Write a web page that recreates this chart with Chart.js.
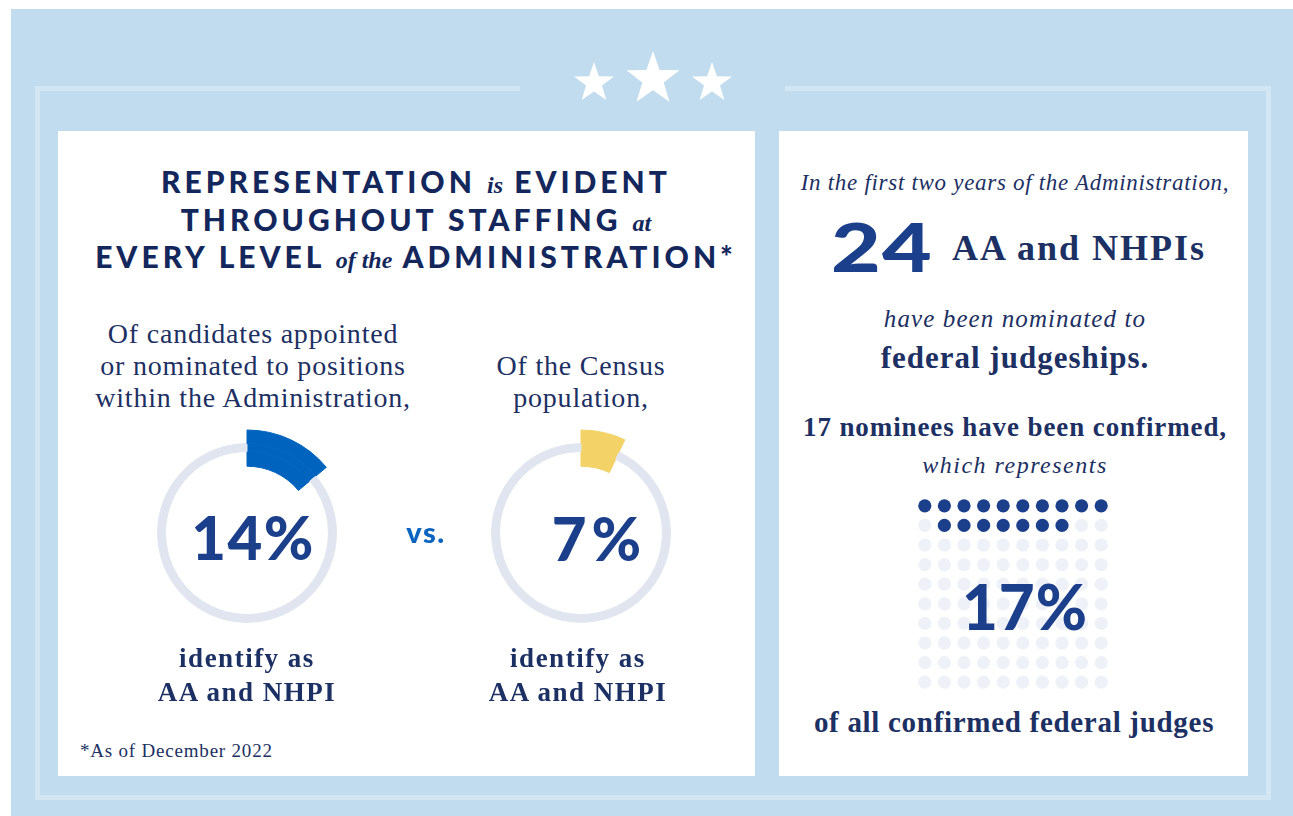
<!DOCTYPE html>
<html>
<head>
<meta charset="utf-8">
<script src="https://cdn.jsdelivr.net/npm/chart.js@4"></script>
<style>
  body { margin: 0; width: 1293px; height: 816px; background: #fff; position: relative; overflow: hidden; }
  .bg { position: absolute; left: 11px; top: 9px; width: 1282px; height: 807px; background: #c1dcee; }
  .frame { position: absolute; left: 35px; top: 86px; width: 1226px; height: 704px; border: 5px solid #d3e6f4; }
  .gap { position: absolute; left: 520px; top: 80px; width: 265px; height: 16px; background: #c1dcee; }
  .panel { position: absolute; top: 131px; height: 645px; background: #fff; }
  .t { position: absolute; white-space: nowrap; color: #1c3063; }
  .c { transform: translateX(-50%); text-align: center; }
  .serif { font-family: "Liberation Serif", serif; }
  .sans { font-family: "Lato", "Inter", sans-serif; font-weight: 900; }
  .big { color: #1b3f8b; }
  .ti { font-family: "Liberation Serif", serif; font-weight: 700; font-size: 24px; letter-spacing: 0; line-height: 0; }
  canvas { position: absolute; }
</style>
</head>
<body>
<div class="bg"></div>
<div class="frame"></div>
<div class="gap"></div>
<svg style="position:absolute;left:560px;top:45px" width="190" height="70" viewBox="560 45 190 70">
  <g fill="#fff" id="stars"></g>
</svg>
<div class="panel" style="left:58px;width:697px"></div>
<div class="panel" style="left:779px;width:469px"></div>

<!-- left panel text -->
<div class="t c sans" style="left:416px;top:163px;font-size:30px;line-height:37.5px;letter-spacing:4px;color:#13275c">
  REPRESENTATION <i class="ti">is</i> EVIDENT<br>
  THROUGHOUT STAFFING <i class="ti">at</i><br>
  EVERY LEVEL <i class="ti">of the</i> ADMINISTRATION*
</div>
<div class="t c serif" style="left:253px;top:318px;font-size:28px;line-height:32px;letter-spacing:0.8px">
  Of candidates appointed<br>or nominated to positions<br>within the Administration,
</div>
<div class="t c serif" style="left:581px;top:350px;font-size:28px;line-height:32px;letter-spacing:0.8px">
  Of the Census<br>population,
</div>
<canvas id="staffChart" width="220" height="220" style="left:137px;top:423px;width:220px;height:220px"></canvas>
<canvas id="censusChart" width="220" height="220" style="left:471px;top:423px;width:220px;height:220px"></canvas>
<div class="t c sans big" style="left:253px;top:507px;font-size:60px;line-height:60px;letter-spacing:1.5px">14%</div>
<div class="t c sans big" style="left:599px;top:508px;font-size:60px;line-height:60px;letter-spacing:5px">7%</div>
<div class="t c sans" style="left:426px;top:517px;font-size:29px;line-height:30px;letter-spacing:1.5px;color:#0a64c0">vs.</div>
<div class="t c serif" style="left:247px;top:641px;font-size:27px;line-height:34px;font-weight:700;letter-spacing:1.5px">
  identify as<br>AA and NHPI
</div>
<div class="t c serif" style="left:578px;top:641px;font-size:27px;line-height:34px;font-weight:700;letter-spacing:1.5px">
  identify as<br>AA and NHPI
</div>
<div class="t serif" style="left:80px;top:740px;font-size:19px;line-height:22px;letter-spacing:0.8px">*As of December 2022</div>

<!-- right panel text -->
<div class="t c serif" style="left:1015px;top:170px;font-size:23px;line-height:26px;font-style:italic;letter-spacing:0.7px">In the first two years of the Administration,</div>
<div class="t sans big" style="left:882px;top:214px;font-size:66px;line-height:66px;letter-spacing:1px;transform:translateX(-50%) scaleX(1.3)">24</div>
<div class="t serif" style="left:952px;top:228px;font-size:36px;line-height:40px;font-weight:700;letter-spacing:2px">AA and NHPIs</div>
<div class="t c serif" style="left:1015px;top:305px;font-size:25px;line-height:28px;font-style:italic;letter-spacing:1.1px">have been nominated to</div>
<div class="t c serif" style="left:1015px;top:341px;font-size:31px;line-height:34px;font-weight:700;letter-spacing:1px">federal judgeships.</div>
<div class="t c serif" style="left:1015px;top:412px;font-size:27px;line-height:30px;font-weight:700;letter-spacing:0.9px">17 nominees have been confirmed,</div>
<div class="t c serif" style="left:1015px;top:452px;font-size:24px;line-height:26px;font-style:italic;letter-spacing:1.5px">which represents</div>
<canvas id="judgeChart" width="196" height="196" style="left:915px;top:496px;width:196px;height:196px"></canvas>
<div class="t c sans big" style="left:1025px;top:575px;font-size:62px;line-height:62px;letter-spacing:1px">17%</div>
<div class="t c serif" style="left:1014px;top:706px;font-size:29px;line-height:32px;font-weight:700;letter-spacing:0.7px">of all confirmed federal judges</div>

<script>
// share of AA and NHPI vs everyone else (percent)
const shareLabels = ['AA and NHPI', 'Other'];
const staffShare = [14, 86];
const censusShare = [7, 93];

// confirmed federal judges, 10 x 10 waffle, '#' = AA and NHPI
const judgeRows = [
    '##########',
    '.#######..',
    '..........',
    '..........',
    '..........',
    '..........',
    '..........',
    '..........',
    '..........',
    '..........'
];

const ringGrey = '#e1e5f0';

// stars (decoration)
const starSpecs = [[594, 83, 21], [653, 79, 28], [712, 83, 21]];
const starGroup = document.getElementById('stars');
starSpecs.forEach(([cx, cy, r]) => {
    const pts = [];
    for (let i = 0; i < 10; i++) {
        const rad = i % 2 === 0 ? r : r * 0.4;
        const a = -Math.PI / 2 + i * Math.PI / 5;
        pts.push((cx + rad * Math.cos(a)).toFixed(1) + ',' + (cy + rad * Math.sin(a)).toFixed(1));
    }
    const p = document.createElementNS('http://www.w3.org/2000/svg', 'polygon');
    p.setAttribute('points', pts.join(' '));
    starGroup.appendChild(p);
});

// the highlighted arc is wider than the grey track, so the ring is split
// in three bands: outer overhang, track, inner overhang
function makeDonut(id, values, color) {
    const band = (bg) => ({
        data: values,
        backgroundColor: [color, bg],
        borderColor: [color, bg],
        borderWidth: 1,
        hoverOffset: 0
    });
    return new Chart(document.getElementById(id), {
        type: 'doughnut',
        data: {
            labels: shareLabels,
            datasets: [
                Object.assign(band('rgba(0,0,0,0)'), { weight: 12 }),
                Object.assign(band(ringGrey), { weight: 7 }),
                Object.assign(band('rgba(0,0,0,0)'), { weight: 13 })
            ]
        },
        options: {
            responsive: false,
            animation: false,
            radius: 103,
            cutout: 71,
            layout: { padding: 0, autoPadding: false },
            events: [],
            plugins: { legend: { display: false }, tooltip: { enabled: false } }
        }
    });
}

makeDonut('staffChart', staffShare, '#0064be');
makeDonut('censusChart', censusShare, '#f3d267');

const judgePoints = [];
const judgeColors = [];
judgeRows.forEach((row, r) => {
    row.split('').forEach((cell, c) => {
        judgePoints.push({ x: c, y: r });
        judgeColors.push(cell === '#' ? '#1b3f8b' : '#eef1f7');
    });
});

new Chart(document.getElementById('judgeChart'), {
    type: 'scatter',
    data: {
        datasets: [{
            data: judgePoints,
            pointBackgroundColor: judgeColors,
            pointBorderWidth: 0,
            pointRadius: 6.6,
            clip: false
        }]
    },
    options: {
        responsive: false,
        animation: false,
        events: [],
        layout: { padding: 0, autoPadding: false },
        scales: {
            x: { display: false, min: -0.5, max: 9.5 },
            y: { display: false, min: -0.5, max: 9.5, reverse: true }
        },
        plugins: { legend: { display: false }, tooltip: { enabled: false } }
    }
});
</script>
</body>
</html>
